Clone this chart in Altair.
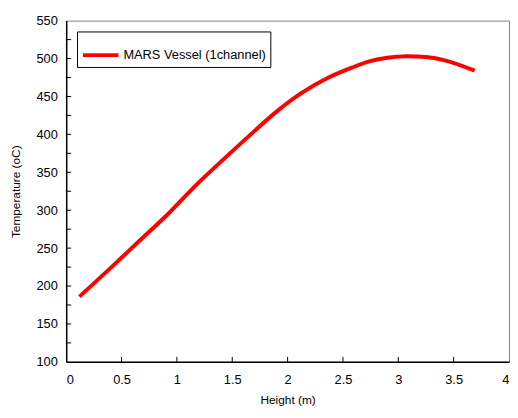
import altair as alt
import pandas as pd

height_m = [0.12, 0.38, 0.65, 0.92, 1.18, 1.45, 1.69, 1.90, 2.13, 2.37, 2.58, 2.73, 2.90, 3.08, 3.25, 3.41, 3.69]
temp_c = [186, 221, 258, 295, 334, 371, 403, 430, 455, 475, 488, 496, 501, 503, 502, 498, 484]
series = "MARS Vessel (1channel)"

x_labels = [0, 0.5, 1, 1.5, 2, 2.5, 3, 3.5, 4]
y_labels = [100, 150, 200, 250, 300, 350, 400, 450, 500, 550]
x_ticks = [0.5, 1, 1.5, 2, 2.5, 3, 3.5]
y_ticks = [125, 150, 175, 200, 225, 250, 275, 300, 325, 350, 375, 400, 425, 450, 475, 500, 525]

df = pd.DataFrame({"h": height_m, "t": temp_c, "s": series})
xt = pd.DataFrame({"h": x_ticks})
yt = pd.DataFrame({"t": y_ticks})

FONT = "Liberation Sans"
xs = alt.Scale(domain=[0, 4], nice=False, zero=False)
ys = alt.Scale(domain=[100, 550], nice=False, zero=False)

PH = 346

common = dict(tickSize=0, grid=False, domainColor="black", domainWidth=1.5,
              labelFont=FONT, labelFontSize=13, labelColor="black", labelOverlap=False,
              titleFont=FONT, titleFontSize=12, titleFontWeight="normal", titleColor="black")
x_axis = alt.Axis(values=x_labels, format="~g", labelPadding=12, titlePadding=8, **common)
y_axis = alt.Axis(values=y_labels, labelPadding=9, titlePadding=14, **common)

X = alt.X("h:Q", scale=xs, title="Height (m)", axis=x_axis)
Y = alt.Y("t:Q", scale=ys, title="Temperature (oC)", axis=y_axis)

line = alt.Chart(df).mark_line(strokeWidth=4, interpolate="monotone").encode(
    x=X, y=Y,
    color=alt.Color("s:N", scale=alt.Scale(range=["#ff0000"]),
                    legend=alt.Legend(title=None, orient="none", legendX=11, legendY=11,
                                      symbolType="stroke", symbolSize=1296, symbolStrokeWidth=4,
                                      labelFontSize=13, labelFont=FONT, labelColor="black",
                                      labelOffset=3, padding=4, strokeColor="black",
                                      fillColor="white", cornerRadius=0)),
)

xtick = alt.Chart(xt).mark_rule(color="black", strokeWidth=1).encode(
    x=X, y=alt.value(PH), y2=alt.value(PH - 5))
ytick = alt.Chart(yt).mark_rule(color="black", strokeWidth=1).encode(
    y=Y, x=alt.value(0), x2=alt.value(5))

chart = alt.layer(line, xtick, ytick).properties(
    width=449, height=PH,
    background="white",
    autosize=alt.AutoSizeParams(type="none"),
    padding={"left": 59, "top": 10, "right": 1, "bottom": 46},
).configure_view(stroke="#808080", strokeWidth=1)

chart.save("out.html", embed_options={"renderer": "svg", "actions": False})
